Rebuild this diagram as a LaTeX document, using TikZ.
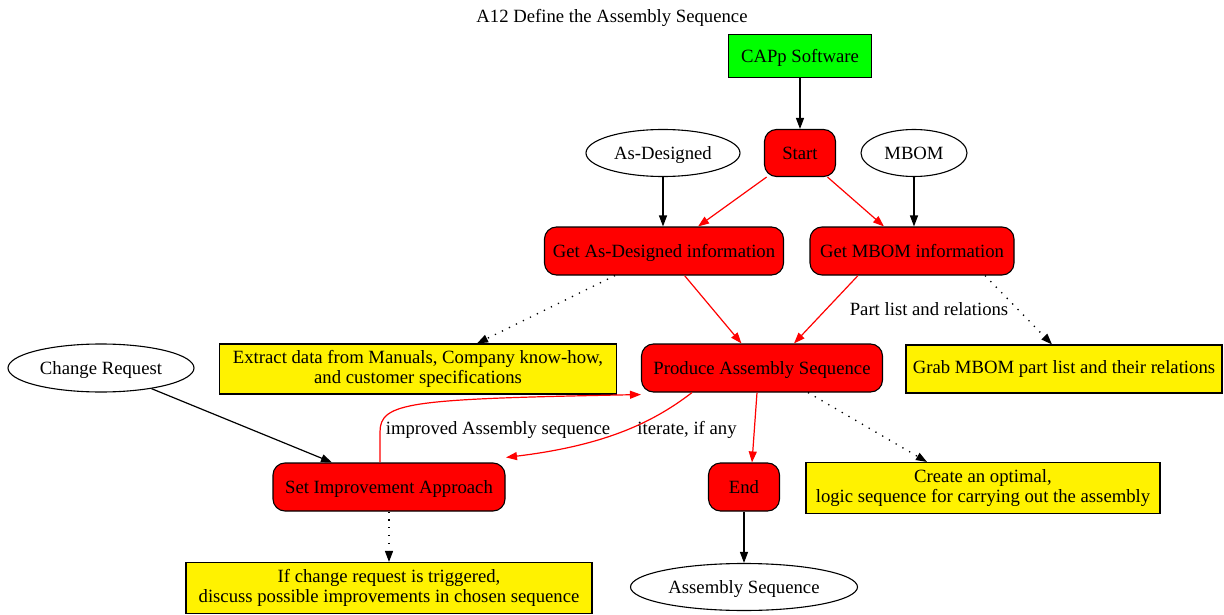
\documentclass[tikz,border=0pt]{standalone}
\usepackage{fontspec}
\setmainfont{Liberation Serif}
\usetikzlibrary{arrows.meta,shapes.geometric}
\begin{document}
\begin{tikzpicture}[x=1pt,y=-1pt,
  every node/.style={font=\fontsize{18.7}{20}\selectfont, inner sep=0pt, align=center, text=black},
  oneline/.style={text height=12.5pt, text depth=0pt},
  proc/.style={oneline, draw=black, fill=red, rounded corners=12pt, line width=1.1pt},
  note/.style={draw=black, fill=yellow, line width=1.1pt},
  data/.style={oneline, draw=black, fill=white, ellipse, line width=1.1pt},
  tool/.style={oneline, draw=black, fill=green, line width=1.1pt},
  flow/.style={-{Triangle[length=11pt,width=8pt]}, line width=1.2pt, black},
  redflow/.style={-{Triangle[length=11pt,width=8pt]}, line width=1.2pt, red},
  hint/.style={-{Triangle[length=11pt,width=8pt]}, line width=1.3pt, black, dash pattern=on 1.3pt off 6.5pt},
  lbl/.style={oneline, fill=none}
]
\useasboundingbox (0,0) rectangle (1224,615);

% title
\node[oneline] (title) at (612,16) {A12 Define the Assembly Sequence};

% tool
\node[tool, minimum width=143pt, minimum height=43pt] (capp) at (800,56) {CAPp Software};

% inputs
\node[data, minimum width=154pt, minimum height=47pt] (asd) at (663,153) {As-Designed};
\node[data, minimum width=106pt, minimum height=47pt] (mbom) at (914,153) {MBOM};
\node[data, minimum width=186pt, minimum height=48pt] (chg) at (101,368) {Change Request};
\node[data, minimum width=227pt, minimum height=47pt] (aseq) at (744,587) {Assembly Sequence};

% process steps
\node[proc, minimum width=71pt, minimum height=47pt] (start) at (800,153) {Start};
\node[proc, minimum width=239pt, minimum height=48pt] (gad) at (664,251) {Get As-Designed information};
\node[proc, minimum width=204pt, minimum height=48pt] (gmbom) at (912,251) {Get MBOM information};
\node[proc, minimum width=241pt, minimum height=48pt] (prod) at (762,368) {Produce Assembly Sequence};
\node[proc, minimum width=232pt, minimum height=48pt] (setimp) at (389,487) {Set Improvement Approach};
\node[proc, minimum width=71pt, minimum height=48pt] (end) at (744,487) {End};

% notes
\node[note, minimum width=397pt, minimum height=50pt] (extract) at (418,369) {Extract data from Manuals, Company know-how,\\and customer specifications};
\node[note, minimum width=316pt, minimum height=48pt] (grab) at (1064,369) {Grab MBOM part list and their relations};
\node[note, minimum width=354pt, minimum height=51pt] (create) at (983,488) {Create an optimal,\\logic sequence for carrying out the assembly};
\node[note, minimum width=406pt, minimum height=51pt] (ifchg) at (389,588) {If change request is triggered,\\discuss possible improvements in chosen sequence};

% black connectors
\draw[flow] (capp) -- (start);
\draw[flow] (asd) -- (asd |- gad.north);
\draw[flow] (mbom) -- (mbom |- gmbom.north);
\draw[flow] (chg) -- ([xshift=-57pt]setimp.north);
\draw[flow] (end) -- (aseq);

% red flow
\draw[redflow] (start) -- (gad);
\draw[redflow] (start) -- (gmbom);
\draw[redflow] (gad) -- (prod);
\draw[redflow] ([xshift=-54pt]gmbom.south) -- ([xshift=32pt]prod.north);
\node[lbl] (plr) at (929,309) {Part list and relations};
\draw[redflow] ([xshift=-5pt]prod.south) -- ([xshift=8pt]end.north);
\draw[redflow] ([xshift=-70pt]prod.south) .. controls (650,425) and (600,446) .. ([xshift=117pt,yshift=5pt]setimp.north);
\node[lbl] (iter) at (687,428) {iterate, if any};
\draw[redflow] ([xshift=-9pt]setimp.north) -- (380,432) .. controls (380,402) and (410,399) .. ([yshift=-2pt]prod.south west);
\node[lbl] (impr) at (498,428) {improved Assembly sequence};

% dotted hints
\draw[hint] ([xshift=-49pt]gad.south) -- ([xshift=59pt]extract.north);
\draw[hint] ([xshift=73pt]gmbom.south) -- ([xshift=-12pt]grab.north);
\draw[hint] ([xshift=46pt]prod.south) -- ([xshift=-56pt]create.north);
\draw[hint] (setimp) -- (ifchg);
\end{tikzpicture}
\end{document}
